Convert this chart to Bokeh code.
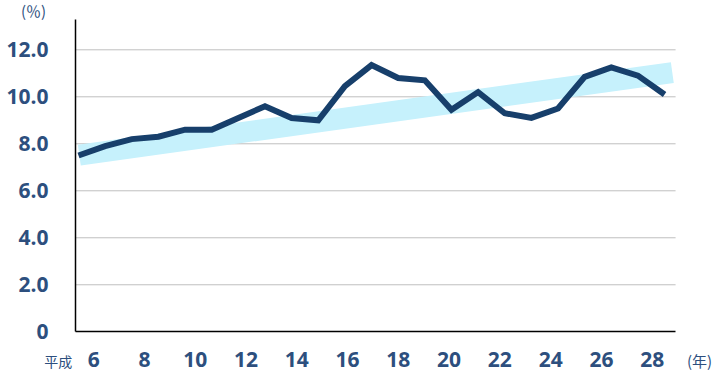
from bokeh.plotting import figure
from bokeh.models import Range1d, LinearAxis, FixedTicker, Label
from bokeh.embed import file_html
from bokeh.resources import INLINE

# ---- data ----
years = list(range(6, 29))
rates = [7.5, 7.9, 8.2, 8.3, 8.6, 8.6, 9.1, 9.6, 9.1, 9.0, 10.45, 11.35,
         10.8, 10.7, 9.45, 10.2, 9.3, 9.1, 9.5, 10.85, 11.25, 10.9, 10.1]
trend_x = [6.03, 28.29]
trend_y = [7.52, 11.03]
y_ticks = [0, 2, 4, 6, 8, 10, 12]
y_tick_labels = ["0", "2.0", "4.0", "6.0", "8.0", "10.0", "12.0"]
x_ticks = [6, 8, 10, 12, 14, 16, 18, 20, 22, 24, 26, 28]
x_tick_labels = ["6", "8", "10", "12", "14", "16", "18", "20", "22", "24", "26", "28"]
era_label = "平成"
x_unit = "(年)"
y_unit = "(％)"

LABEL_COLOR = "#2d4f7e"
LINE_COLOR = "#173f6b"
BAND_COLOR = "#c6f1fc"
NUM_FONT = "Open Sans"
CJK_FONT = "Noto Sans CJK JP"

# plotting area limits (data units)
X_LEFT, X_RIGHT = 5.887, 28.413        # data x scale
LX_LEFT, LX_RIGHT = 5.279, 28.918      # label x scale
Y_TOP = 13.29

# the frame covers the whole canvas; axes are pinned with fixed_location
p = figure(width=720, height=372, output_backend="svg", toolbar_location=None,
           x_range=Range1d(3.0717, 30.099), y_range=Range1d(-1.7336, 14.0985),
           x_axis_type=None, y_axis_type=None,
           min_border_left=0, min_border_right=0,
           min_border_top=0, min_border_bottom=0)
p.outline_line_color = None
p.background_fill_color = "white"
p.border_fill_color = "white"
p.extra_x_ranges = {"lab": Range1d(2.324, 30.693)}

# horizontal grid lines at the tick values
grid_vals = y_ticks[1:]
p.segment(x0=[X_LEFT] * len(grid_vals), x1=[X_RIGHT] * len(grid_vals),
          y0=grid_vals, y1=grid_vals, line_color="#bfbfbf", line_width=1)

# trend band
p.line(trend_x, trend_y, line_width=21, line_color=BAND_COLOR, line_cap="butt")
# main line
p.line(years, rates, line_width=6, line_color=LINE_COLOR, line_join="miter")

# y axis
ya = LinearAxis(ticker=FixedTicker(ticks=y_ticks), fixed_location=X_LEFT,
                bounds=(0, Y_TOP))
ya.major_label_overrides = {t: s for t, s in zip(y_ticks, y_tick_labels)}
ya.axis_line_color = "black"
ya.axis_line_width = 1.5
ya.major_tick_line_color = None
ya.minor_tick_line_color = None
ya.major_tick_out = 0
ya.major_tick_in = 0
ya.minor_tick_out = 0
ya.major_label_standoff = 27
ya.major_label_text_font = NUM_FONT
ya.major_label_text_font_style = "bold"
ya.major_label_text_font_size = "21px"
ya.major_label_text_color = LABEL_COLOR
p.add_layout(ya, "left")

# x axis on a label range
xa = LinearAxis(x_range_name="lab", ticker=FixedTicker(ticks=x_ticks),
                fixed_location=0, bounds=(LX_LEFT, LX_RIGHT))
xa.major_label_overrides = {t: s for t, s in zip(x_ticks, x_tick_labels)}
xa.axis_line_color = "black"
xa.axis_line_width = 1.5
xa.major_tick_line_color = None
xa.minor_tick_line_color = None
xa.major_tick_out = 0
xa.major_tick_in = 0
xa.minor_tick_out = 0
xa.major_label_standoff = 20
xa.major_label_text_font = NUM_FONT
xa.major_label_text_font_style = "bold"
xa.major_label_text_font_size = "21px"
xa.major_label_text_color = LABEL_COLOR
p.add_layout(xa, "below")

# unit labels (screen offsets from the frame's bottom-left corner)
lab_kw = dict(x_units="screen", y_units="screen", text_align="center",
              text_baseline="middle", text_font=CJK_FONT, text_color=LABEL_COLOR)
p.add_layout(Label(x=33, y=362, text=y_unit, text_font_size="15px", **lab_kw))
p.add_layout(Label(x=57.7, y=12, text=era_label, text_font_size="14px", **lab_kw))
p.add_layout(Label(x=699, y=12, text=x_unit, text_font_size="15px", **lab_kw))

open("out.html", "w").write(file_html(p, INLINE))
